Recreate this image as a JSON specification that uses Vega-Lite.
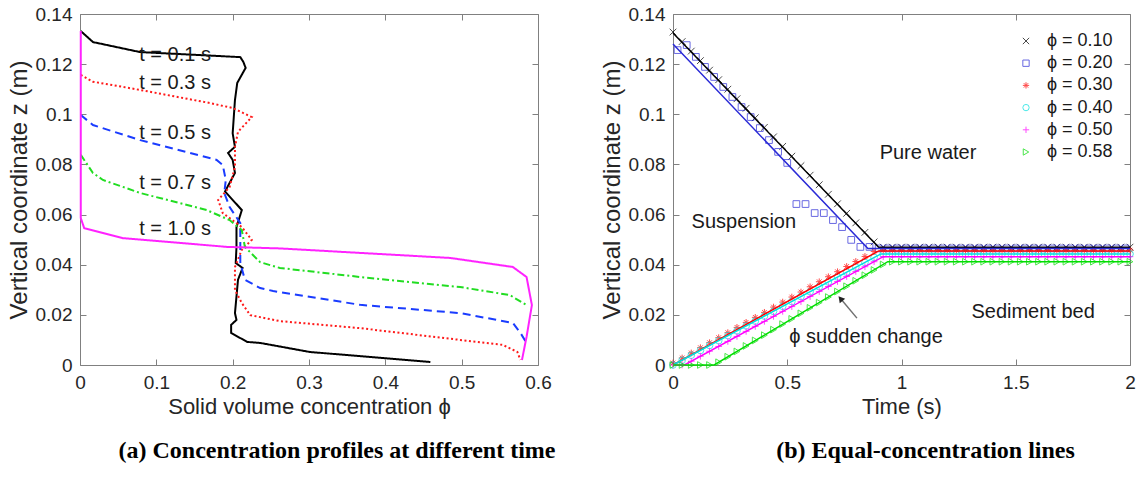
{
  "$schema": "https://vega.github.io/schema/vega-lite/v6.json",
  "padding": {"left": 7, "top": 5, "right": 2, "bottom": 2},
  "spacing": 44,
  "resolve": {"scale": {"color": "independent", "shape": "independent", "strokeDash": "independent"}, "legend": {"color": "independent", "shape": "independent", "strokeDash": "independent"}},
  "config": {
    "view": {"stroke": null},
    "font": "Liberation Sans",
    "axis": {"grid": false, "labelFont": "Liberation Sans", "labelFontSize": 19, "labelColor": "#262626", "titleFont": "Liberation Sans", "titleFontSize": 22, "titleFontWeight": "normal", "titleColor": "#262626", "domainColor": "#808080", "tickColor": "#808080", "tickSize": -6, "labelPadding": 14, "labelFlush": false, "labelOverlap": false},
    "axisY": {"titleFontSize": 24}
  },
  "datasets": {
    "prof": [
      {"s":"0.1","i":0,"x":0.001,"y":0.1332},{"s":"0.1","i":1,"x":0.017,"y":0.1288},{"s":"0.1","i":2,"x":0.079,"y":0.1248},{"s":"0.1","i":3,"x":0.21,"y":0.1228},{"s":"0.1","i":4,"x":0.214,"y":0.1209},{"s":"0.1","i":5,"x":0.217,"y":0.1185},{"s":"0.1","i":6,"x":0.206,"y":0.1125},{"s":"0.1","i":7,"x":0.203,"y":0.1057},{"s":"0.1","i":8,"x":0.2,"y":0.0924},{"s":"0.1","i":9,"x":0.203,"y":0.087},{"s":"0.1","i":10,"x":0.194,"y":0.0846},{"s":"0.1","i":11,"x":0.2,"y":0.0818},{"s":"0.1","i":12,"x":0.203,"y":0.0766},{"s":"0.1","i":13,"x":0.19,"y":0.0692},{"s":"0.1","i":14,"x":0.212,"y":0.0618},{"s":"0.1","i":15,"x":0.205,"y":0.055},{"s":"0.1","i":16,"x":0.205,"y":0.047},{"s":"0.1","i":17,"x":0.204,"y":0.0407},{"s":"0.1","i":18,"x":0.213,"y":0.0387},{"s":"0.1","i":19,"x":0.207,"y":0.034},{"s":"0.1","i":20,"x":0.203,"y":0.0207},{"s":"0.1","i":21,"x":0.205,"y":0.018},{"s":"0.1","i":22,"x":0.198,"y":0.016},{"s":"0.1","i":23,"x":0.198,"y":0.0128},{"s":"0.1","i":24,"x":0.219,"y":0.0092},{"s":"0.1","i":25,"x":0.236,"y":0.0088},{"s":"0.1","i":26,"x":0.301,"y":0.0052},{"s":"0.1","i":27,"x":0.459,"y":0.0012},
      {"s":"0.3","i":0,"x":0.001,"y":0.1157},{"s":"0.3","i":1,"x":0.017,"y":0.113},{"s":"0.3","i":2,"x":0.079,"y":0.1097},{"s":"0.3","i":3,"x":0.17,"y":0.1045},{"s":"0.3","i":4,"x":0.2,"y":0.1025},{"s":"0.3","i":5,"x":0.225,"y":0.0989},{"s":"0.3","i":6,"x":0.207,"y":0.093},{"s":"0.3","i":7,"x":0.203,"y":0.087},{"s":"0.3","i":8,"x":0.203,"y":0.079},{"s":"0.3","i":9,"x":0.196,"y":0.071},{"s":"0.3","i":10,"x":0.181,"y":0.0658},{"s":"0.3","i":11,"x":0.187,"y":0.0606},{"s":"0.3","i":12,"x":0.212,"y":0.055},{"s":"0.3","i":13,"x":0.225,"y":0.0499},{"s":"0.3","i":14,"x":0.212,"y":0.046},{"s":"0.3","i":15,"x":0.203,"y":0.039},{"s":"0.3","i":16,"x":0.203,"y":0.0299},{"s":"0.3","i":17,"x":0.212,"y":0.0247},{"s":"0.3","i":18,"x":0.223,"y":0.0199},{"s":"0.3","i":19,"x":0.236,"y":0.0191},{"s":"0.3","i":20,"x":0.262,"y":0.0175},{"s":"0.3","i":21,"x":0.367,"y":0.0147},{"s":"0.3","i":22,"x":0.498,"y":0.01},{"s":"0.3","i":23,"x":0.554,"y":0.008},{"s":"0.3","i":24,"x":0.573,"y":0.0052},{"s":"0.3","i":25,"x":0.577,"y":0.002},
      {"s":"0.5","i":0,"x":0.001,"y":0.0997},{"s":"0.5","i":1,"x":0.017,"y":0.0957},{"s":"0.5","i":2,"x":0.079,"y":0.0897},{"s":"0.5","i":3,"x":0.179,"y":0.0818},{"s":"0.5","i":4,"x":0.187,"y":0.0798},{"s":"0.5","i":5,"x":0.191,"y":0.0738},{"s":"0.5","i":6,"x":0.189,"y":0.0686},{"s":"0.5","i":7,"x":0.196,"y":0.063},{"s":"0.5","i":8,"x":0.21,"y":0.0566},{"s":"0.5","i":9,"x":0.21,"y":0.0407},{"s":"0.5","i":10,"x":0.216,"y":0.034},{"s":"0.5","i":11,"x":0.236,"y":0.0307},{"s":"0.5","i":12,"x":0.253,"y":0.0295},{"s":"0.5","i":13,"x":0.367,"y":0.024},{"s":"0.5","i":14,"x":0.498,"y":0.0207},{"s":"0.5","i":15,"x":0.567,"y":0.0168},{"s":"0.5","i":16,"x":0.577,"y":0.0128},{"s":"0.5","i":17,"x":0.585,"y":0.0088},
      {"s":"0.7","i":0,"x":0.001,"y":0.0838},{"s":"0.7","i":1,"x":0.017,"y":0.0766},{"s":"0.7","i":2,"x":0.03,"y":0.0738},{"s":"0.7","i":3,"x":0.079,"y":0.0686},{"s":"0.7","i":4,"x":0.166,"y":0.0618},{"s":"0.7","i":5,"x":0.196,"y":0.0578},{"s":"0.7","i":6,"x":0.212,"y":0.0538},{"s":"0.7","i":7,"x":0.216,"y":0.0471},{"s":"0.7","i":8,"x":0.236,"y":0.041},{"s":"0.7","i":9,"x":0.262,"y":0.0387},{"s":"0.7","i":10,"x":0.367,"y":0.0351},{"s":"0.7","i":11,"x":0.498,"y":0.0311},{"s":"0.7","i":12,"x":0.563,"y":0.0279},{"s":"0.7","i":13,"x":0.585,"y":0.0239},
      {"s":"1.0","i":0,"x":0.001,"y":0.1332},{"s":"1.0","i":1,"x":0.001,"y":0.0586},{"s":"1.0","i":2,"x":0.0055,"y":0.0546},{"s":"1.0","i":3,"x":0.056,"y":0.0506},{"s":"1.0","i":4,"x":0.193,"y":0.0471},{"s":"1.0","i":5,"x":0.262,"y":0.0465},{"s":"1.0","i":6,"x":0.485,"y":0.0427},{"s":"1.0","i":7,"x":0.567,"y":0.0391},{"s":"1.0","i":8,"x":0.585,"y":0.0351},{"s":"1.0","i":9,"x":0.592,"y":0.0239},{"s":"1.0","i":10,"x":0.585,"y":0.0112},{"s":"1.0","i":11,"x":0.579,"y":0.002}
    ],
    "labA": [
      {"x":0.1245,"y":0.1236,"txt":"t = 0.1 s"},
      {"x":0.1245,"y":0.1125,"txt":"t = 0.3 s"},
      {"x":0.1245,"y":0.0924,"txt":"t = 0.5 s"},
      {"x":0.1245,"y":0.0726,"txt":"t = 0.7 s"},
      {"x":0.1245,"y":0.0542,"txt":"t = 1.0 s"}
    ],
    "ln": [
      {"p":"0.10","t":0,"z":0.1324},{"p":"0.10","t":0.9,"z":0.047},{"p":"0.10","t":2,"z":0.047},
      {"p":"0.20","t":0,"z":0.128},{"p":"0.20","t":0.853,"z":0.0465},{"p":"0.20","t":2,"z":0.0465},
      {"p":"0.30","t":0,"z":0},{"p":"0.30","t":0.9,"z":0.0455},{"p":"0.30","t":2,"z":0.0455},
      {"p":"0.40","t":0,"z":0},{"p":"0.40","t":0.91,"z":0.0443},{"p":"0.40","t":2,"z":0.0443},
      {"p":"0.50","t":0,"z":0},{"p":"0.50","t":0.05,"z":0},{"p":"0.50","t":0.92,"z":0.0432},{"p":"0.50","t":2,"z":0.0432},
      {"p":"0.58","t":0,"z":0},{"p":"0.58","t":0.18,"z":0},{"p":"0.58","t":0.94,"z":0.0412},{"p":"0.58","t":2,"z":0.0412}
    ],
    "mk": [
      {"p":"0.10","t":0,"z":0.1328},{"p":"0.10","t":0.04,"z":0.129},{"p":"0.10","t":0.08,"z":0.1252},{"p":"0.10","t":0.12,"z":0.1214},{"p":"0.10","t":0.16,"z":0.1176},{"p":"0.10","t":0.2,"z":0.1138},{"p":"0.10","t":0.24,"z":0.11},{"p":"0.10","t":0.28,"z":0.1062},{"p":"0.10","t":0.32,"z":0.1024},{"p":"0.10","t":0.36,"z":0.0986},{"p":"0.10","t":0.4,"z":0.0948},{"p":"0.10","t":0.44,"z":0.091},{"p":"0.10","t":0.48,"z":0.0872},{"p":"0.10","t":0.52,"z":0.0833},{"p":"0.10","t":0.56,"z":0.0795},{"p":"0.10","t":0.6,"z":0.0757},{"p":"0.10","t":0.64,"z":0.0719},{"p":"0.10","t":0.68,"z":0.0681},{"p":"0.10","t":0.72,"z":0.0643},{"p":"0.10","t":0.76,"z":0.0605},{"p":"0.10","t":0.8,"z":0.0567},{"p":"0.10","t":0.84,"z":0.0529},{"p":"0.10","t":0.88,"z":0.0491},{"p":"0.10","t":0.92,"z":0.047},{"p":"0.10","t":0.96,"z":0.047},{"p":"0.10","t":1,"z":0.047},{"p":"0.10","t":1.04,"z":0.047},{"p":"0.10","t":1.08,"z":0.047},{"p":"0.10","t":1.12,"z":0.047},{"p":"0.10","t":1.16,"z":0.047},{"p":"0.10","t":1.2,"z":0.047},{"p":"0.10","t":1.24,"z":0.047},{"p":"0.10","t":1.28,"z":0.047},{"p":"0.10","t":1.32,"z":0.047},{"p":"0.10","t":1.36,"z":0.047},{"p":"0.10","t":1.4,"z":0.047},{"p":"0.10","t":1.44,"z":0.047},{"p":"0.10","t":1.48,"z":0.047},{"p":"0.10","t":1.52,"z":0.047},{"p":"0.10","t":1.56,"z":0.047},{"p":"0.10","t":1.6,"z":0.047},{"p":"0.10","t":1.64,"z":0.047},{"p":"0.10","t":1.68,"z":0.047},{"p":"0.10","t":1.72,"z":0.047},{"p":"0.10","t":1.76,"z":0.047},{"p":"0.10","t":1.8,"z":0.047},{"p":"0.10","t":1.84,"z":0.047},{"p":"0.10","t":1.88,"z":0.047},{"p":"0.10","t":1.92,"z":0.047},{"p":"0.10","t":1.96,"z":0.047},{"p":"0.10","t":2,"z":0.047},
      {"p":"0.20","t":0.02,"z":0.1256},{"p":"0.20","t":0.06,"z":0.1276},{"p":"0.20","t":0.1,"z":0.1229},{"p":"0.20","t":0.14,"z":0.1189},{"p":"0.20","t":0.18,"z":0.1149},{"p":"0.20","t":0.22,"z":0.1109},{"p":"0.20","t":0.26,"z":0.1069},{"p":"0.20","t":0.3,"z":0.1029},{"p":"0.20","t":0.34,"z":0.0989},{"p":"0.20","t":0.38,"z":0.0945},{"p":"0.20","t":0.42,"z":0.0897},{"p":"0.20","t":0.46,"z":0.085},{"p":"0.20","t":0.5,"z":0.0806},{"p":"0.20","t":0.54,"z":0.0642},{"p":"0.20","t":0.58,"z":0.0642},{"p":"0.20","t":0.62,"z":0.0606},{"p":"0.20","t":0.66,"z":0.0606},{"p":"0.20","t":0.7,"z":0.0578},{"p":"0.20","t":0.74,"z":0.055},{"p":"0.20","t":0.78,"z":0.0499},{"p":"0.20","t":0.82,"z":0.0471},{"p":"0.20","t":0.86,"z":0.0471},{"p":"0.20","t":0.9,"z":0.0465},{"p":"0.20","t":0.94,"z":0.0465},{"p":"0.20","t":0.98,"z":0.0465},{"p":"0.20","t":1.02,"z":0.0465},{"p":"0.20","t":1.06,"z":0.0465},{"p":"0.20","t":1.1,"z":0.0465},{"p":"0.20","t":1.14,"z":0.0465},{"p":"0.20","t":1.18,"z":0.0465},{"p":"0.20","t":1.22,"z":0.0465},{"p":"0.20","t":1.26,"z":0.0465},{"p":"0.20","t":1.3,"z":0.0465},{"p":"0.20","t":1.34,"z":0.0465},{"p":"0.20","t":1.38,"z":0.0465},{"p":"0.20","t":1.42,"z":0.0465},{"p":"0.20","t":1.46,"z":0.0465},{"p":"0.20","t":1.5,"z":0.0465},{"p":"0.20","t":1.54,"z":0.0465},{"p":"0.20","t":1.58,"z":0.0465},{"p":"0.20","t":1.62,"z":0.0465},{"p":"0.20","t":1.66,"z":0.0465},{"p":"0.20","t":1.7,"z":0.0465},{"p":"0.20","t":1.74,"z":0.0465},{"p":"0.20","t":1.78,"z":0.0465},{"p":"0.20","t":1.82,"z":0.0465},{"p":"0.20","t":1.86,"z":0.0465},{"p":"0.20","t":1.9,"z":0.0465},{"p":"0.20","t":1.94,"z":0.0465},{"p":"0.20","t":1.98,"z":0.0465},
      {"p":"0.30","t":0,"z":0.0008},{"p":"0.30","t":0.04,"z":0.0028},{"p":"0.30","t":0.08,"z":0.0048},{"p":"0.30","t":0.12,"z":0.0069},{"p":"0.30","t":0.16,"z":0.0089},{"p":"0.30","t":0.2,"z":0.0109},{"p":"0.30","t":0.24,"z":0.0129},{"p":"0.30","t":0.28,"z":0.015},{"p":"0.30","t":0.32,"z":0.017},{"p":"0.30","t":0.36,"z":0.019},{"p":"0.30","t":0.4,"z":0.021},{"p":"0.30","t":0.44,"z":0.0231},{"p":"0.30","t":0.48,"z":0.0251},{"p":"0.30","t":0.52,"z":0.0271},{"p":"0.30","t":0.56,"z":0.0291},{"p":"0.30","t":0.6,"z":0.0312},{"p":"0.30","t":0.64,"z":0.0332},{"p":"0.30","t":0.68,"z":0.0352},{"p":"0.30","t":0.72,"z":0.0372},{"p":"0.30","t":0.76,"z":0.0393},{"p":"0.30","t":0.8,"z":0.0413},{"p":"0.30","t":0.84,"z":0.0433},{"p":"0.30","t":0.88,"z":0.0453},{"p":"0.30","t":0.92,"z":0.0458},{"p":"0.30","t":0.96,"z":0.0458},{"p":"0.30","t":1,"z":0.0458},{"p":"0.30","t":1.04,"z":0.0458},{"p":"0.30","t":1.08,"z":0.0458},{"p":"0.30","t":1.12,"z":0.0458},{"p":"0.30","t":1.16,"z":0.0458},{"p":"0.30","t":1.2,"z":0.0458},{"p":"0.30","t":1.24,"z":0.0458},{"p":"0.30","t":1.28,"z":0.0458},{"p":"0.30","t":1.32,"z":0.0458},{"p":"0.30","t":1.36,"z":0.0458},{"p":"0.30","t":1.4,"z":0.0458},{"p":"0.30","t":1.44,"z":0.0458},{"p":"0.30","t":1.48,"z":0.0458},{"p":"0.30","t":1.52,"z":0.0458},{"p":"0.30","t":1.56,"z":0.0458},{"p":"0.30","t":1.6,"z":0.0458},{"p":"0.30","t":1.64,"z":0.0458},{"p":"0.30","t":1.68,"z":0.0458},{"p":"0.30","t":1.72,"z":0.0458},{"p":"0.30","t":1.76,"z":0.0458},{"p":"0.30","t":1.8,"z":0.0458},{"p":"0.30","t":1.84,"z":0.0458},{"p":"0.30","t":1.88,"z":0.0458},{"p":"0.30","t":1.92,"z":0.0458},{"p":"0.30","t":1.96,"z":0.0458},{"p":"0.30","t":2,"z":0.0458},
      {"p":"0.40","t":0,"z":0},{"p":"0.40","t":0.04,"z":0.0019},{"p":"0.40","t":0.08,"z":0.0039},{"p":"0.40","t":0.12,"z":0.0058},{"p":"0.40","t":0.16,"z":0.0078},{"p":"0.40","t":0.2,"z":0.0097},{"p":"0.40","t":0.24,"z":0.0117},{"p":"0.40","t":0.28,"z":0.0136},{"p":"0.40","t":0.32,"z":0.0156},{"p":"0.40","t":0.36,"z":0.0175},{"p":"0.40","t":0.4,"z":0.0195},{"p":"0.40","t":0.44,"z":0.0214},{"p":"0.40","t":0.48,"z":0.0234},{"p":"0.40","t":0.52,"z":0.0253},{"p":"0.40","t":0.56,"z":0.0273},{"p":"0.40","t":0.6,"z":0.0292},{"p":"0.40","t":0.64,"z":0.0312},{"p":"0.40","t":0.68,"z":0.0331},{"p":"0.40","t":0.72,"z":0.0351},{"p":"0.40","t":0.76,"z":0.037},{"p":"0.40","t":0.8,"z":0.039},{"p":"0.40","t":0.84,"z":0.0409},{"p":"0.40","t":0.88,"z":0.0429},{"p":"0.40","t":0.92,"z":0.0443},{"p":"0.40","t":0.96,"z":0.0443},{"p":"0.40","t":1,"z":0.0443},{"p":"0.40","t":1.04,"z":0.0443},{"p":"0.40","t":1.08,"z":0.0443},{"p":"0.40","t":1.12,"z":0.0443},{"p":"0.40","t":1.16,"z":0.0443},{"p":"0.40","t":1.2,"z":0.0443},{"p":"0.40","t":1.24,"z":0.0443},{"p":"0.40","t":1.28,"z":0.0443},{"p":"0.40","t":1.32,"z":0.0443},{"p":"0.40","t":1.36,"z":0.0443},{"p":"0.40","t":1.4,"z":0.0443},{"p":"0.40","t":1.44,"z":0.0443},{"p":"0.40","t":1.48,"z":0.0443},{"p":"0.40","t":1.52,"z":0.0443},{"p":"0.40","t":1.56,"z":0.0443},{"p":"0.40","t":1.6,"z":0.0443},{"p":"0.40","t":1.64,"z":0.0443},{"p":"0.40","t":1.68,"z":0.0443},{"p":"0.40","t":1.72,"z":0.0443},{"p":"0.40","t":1.76,"z":0.0443},{"p":"0.40","t":1.8,"z":0.0443},{"p":"0.40","t":1.84,"z":0.0443},{"p":"0.40","t":1.88,"z":0.0443},{"p":"0.40","t":1.92,"z":0.0443},{"p":"0.40","t":1.96,"z":0.0443},{"p":"0.40","t":2,"z":0.0443},
      {"p":"0.50","t":0,"z":0},{"p":"0.50","t":0.04,"z":0},{"p":"0.50","t":0.08,"z":0.0015},{"p":"0.50","t":0.12,"z":0.0035},{"p":"0.50","t":0.16,"z":0.0055},{"p":"0.50","t":0.2,"z":0.0074},{"p":"0.50","t":0.24,"z":0.0094},{"p":"0.50","t":0.28,"z":0.0114},{"p":"0.50","t":0.32,"z":0.0134},{"p":"0.50","t":0.36,"z":0.0154},{"p":"0.50","t":0.4,"z":0.0174},{"p":"0.50","t":0.44,"z":0.0194},{"p":"0.50","t":0.48,"z":0.0214},{"p":"0.50","t":0.52,"z":0.0233},{"p":"0.50","t":0.56,"z":0.0253},{"p":"0.50","t":0.6,"z":0.0273},{"p":"0.50","t":0.64,"z":0.0293},{"p":"0.50","t":0.68,"z":0.0313},{"p":"0.50","t":0.72,"z":0.0333},{"p":"0.50","t":0.76,"z":0.0353},{"p":"0.50","t":0.8,"z":0.0373},{"p":"0.50","t":0.84,"z":0.0392},{"p":"0.50","t":0.88,"z":0.0412},{"p":"0.50","t":0.92,"z":0.0432},{"p":"0.50","t":0.96,"z":0.0432},{"p":"0.50","t":1,"z":0.0432},{"p":"0.50","t":1.04,"z":0.0432},{"p":"0.50","t":1.08,"z":0.0432},{"p":"0.50","t":1.12,"z":0.0432},{"p":"0.50","t":1.16,"z":0.0432},{"p":"0.50","t":1.2,"z":0.0432},{"p":"0.50","t":1.24,"z":0.0432},{"p":"0.50","t":1.28,"z":0.0432},{"p":"0.50","t":1.32,"z":0.0432},{"p":"0.50","t":1.36,"z":0.0432},{"p":"0.50","t":1.4,"z":0.0432},{"p":"0.50","t":1.44,"z":0.0432},{"p":"0.50","t":1.48,"z":0.0432},{"p":"0.50","t":1.52,"z":0.0432},{"p":"0.50","t":1.56,"z":0.0432},{"p":"0.50","t":1.6,"z":0.0432},{"p":"0.50","t":1.64,"z":0.0432},{"p":"0.50","t":1.68,"z":0.0432},{"p":"0.50","t":1.72,"z":0.0432},{"p":"0.50","t":1.76,"z":0.0432},{"p":"0.50","t":1.8,"z":0.0432},{"p":"0.50","t":1.84,"z":0.0432},{"p":"0.50","t":1.88,"z":0.0432},{"p":"0.50","t":1.92,"z":0.0432},{"p":"0.50","t":1.96,"z":0.0432},{"p":"0.50","t":2,"z":0.0432},
      {"p":"0.58","t":0,"z":0},{"p":"0.58","t":0.04,"z":0},{"p":"0.58","t":0.08,"z":0},{"p":"0.58","t":0.12,"z":0},{"p":"0.58","t":0.16,"z":0},{"p":"0.58","t":0.2,"z":0.0011},{"p":"0.58","t":0.24,"z":0.0033},{"p":"0.58","t":0.28,"z":0.0054},{"p":"0.58","t":0.32,"z":0.0076},{"p":"0.58","t":0.36,"z":0.0098},{"p":"0.58","t":0.4,"z":0.0119},{"p":"0.58","t":0.44,"z":0.0141},{"p":"0.58","t":0.48,"z":0.0163},{"p":"0.58","t":0.52,"z":0.0184},{"p":"0.58","t":0.56,"z":0.0206},{"p":"0.58","t":0.6,"z":0.0228},{"p":"0.58","t":0.64,"z":0.0249},{"p":"0.58","t":0.68,"z":0.0271},{"p":"0.58","t":0.72,"z":0.0293},{"p":"0.58","t":0.76,"z":0.0314},{"p":"0.58","t":0.8,"z":0.0336},{"p":"0.58","t":0.84,"z":0.0358},{"p":"0.58","t":0.88,"z":0.0379},{"p":"0.58","t":0.92,"z":0.0401},{"p":"0.58","t":0.96,"z":0.0412},{"p":"0.58","t":1,"z":0.0412},{"p":"0.58","t":1.04,"z":0.0412},{"p":"0.58","t":1.08,"z":0.0412},{"p":"0.58","t":1.12,"z":0.0412},{"p":"0.58","t":1.16,"z":0.0412},{"p":"0.58","t":1.2,"z":0.0412},{"p":"0.58","t":1.24,"z":0.0412},{"p":"0.58","t":1.28,"z":0.0412},{"p":"0.58","t":1.32,"z":0.0412},{"p":"0.58","t":1.36,"z":0.0412},{"p":"0.58","t":1.4,"z":0.0412},{"p":"0.58","t":1.44,"z":0.0412},{"p":"0.58","t":1.48,"z":0.0412},{"p":"0.58","t":1.52,"z":0.0412},{"p":"0.58","t":1.56,"z":0.0412},{"p":"0.58","t":1.6,"z":0.0412},{"p":"0.58","t":1.64,"z":0.0412},{"p":"0.58","t":1.68,"z":0.0412},{"p":"0.58","t":1.72,"z":0.0412},{"p":"0.58","t":1.76,"z":0.0412},{"p":"0.58","t":1.8,"z":0.0412},{"p":"0.58","t":1.84,"z":0.0412},{"p":"0.58","t":1.88,"z":0.0412},{"p":"0.58","t":1.92,"z":0.0412},{"p":"0.58","t":1.96,"z":0.0412},{"p":"0.58","t":2,"z":0.0412}
    ],
    "annB": [
      {"x":1.116,"y":0.0846,"txt":"Pure water"},
      {"x":0.31,"y":0.057,"txt":"Suspension"},
      {"x":1.576,"y":0.0211,"txt":"Sediment bed"},
      {"x":0.845,"y":0.0112,"txt":"ϕ sudden change"}
    ],
    "arr": [
      {"x1":0.805,"y1":0.0187,"x2":0.733,"y2":0.0265}
    ]
  },
  "hconcat": [
    {
      "width": 458,
      "height": 351,
      "title": {"text": "(a) Concentration profiles at different time", "orient": "bottom", "anchor": "middle", "frame": "group", "dx": 28, "offset": 22, "font": "Liberation Serif", "fontSize": 24, "fontWeight": "bold", "color": "#000000"},
      "layer": [
        {
          "data": {"name": "prof"},
          "mark": {"type": "line", "strokeWidth": 2},
          "encoding": {
            "x": {"field": "x", "type": "quantitative", "scale": {"domain": [0, 0.6], "nice": false, "zero": false}, "axis": {"orient": "bottom", "values": [0, 0.1, 0.2, 0.3, 0.4, 0.5, 0.6], "format": "~g", "title": "Solid volume concentration ϕ"}},
            "y": {"field": "y", "type": "quantitative", "scale": {"domain": [0, 0.14], "nice": false}, "axis": {"orient": "left", "values": [0, 0.02, 0.04, 0.06, 0.08, 0.1, 0.12, 0.14], "format": "~g", "title": "Vertical coordinate z (m)"}},
            "color": {"field": "s", "type": "nominal", "scale": {"domain": ["0.1", "0.3", "0.5", "0.7", "1.0"], "range": ["#000000", "#ff1a1a", "#1a3cff", "#22dd22", "#ff22ff"]}, "legend": null},
            "strokeDash": {"field": "s", "type": "nominal", "scale": {"domain": ["0.1", "0.3", "0.5", "0.7", "1.0"], "range": [[1, 0], [2, 2.5], [8, 5], [7, 3, 2, 3], [1, 0]]}, "legend": null},
            "order": {"field": "i", "type": "quantitative"}
          }
        },
        {
          "data": {"name": "labA"},
          "mark": {"type": "text", "fontSize": 20, "font": "Liberation Sans", "color": "#1a1a1a"},
          "encoding": {
            "x": {"field": "x", "type": "quantitative", "axis": {"orient": "top", "labels": false, "title": null, "values": [0, 0.1, 0.2, 0.3, 0.4, 0.5, 0.6]}},
            "y": {"field": "y", "type": "quantitative", "axis": {"orient": "right", "labels": false, "title": null, "values": [0, 0.02, 0.04, 0.06, 0.08, 0.1, 0.12, 0.14]}},
            "text": {"field": "txt"}
          }
        }
      ]
    },
    {
      "width": 457,
      "height": 351,
      "title": {"text": "(b) Equal-concentration lines", "orient": "bottom", "anchor": "middle", "frame": "group", "dx": 24, "offset": 22, "font": "Liberation Serif", "fontSize": 24, "fontWeight": "bold", "color": "#000000"},
      "layer": [
        {
          "data": {"name": "mk"},
          "mark": {"type": "point", "filled": false, "strokeWidth": 1, "size": 45},
          "encoding": {
            "x": {"field": "t", "type": "quantitative", "scale": {"domain": [0, 2], "nice": false}, "axis": {"orient": "bottom", "values": [0, 0.5, 1, 1.5, 2], "format": "~g", "title": "Time (s)"}},
            "y": {"field": "z", "type": "quantitative", "scale": {"domain": [0, 0.14], "nice": false}, "axis": {"orient": "left", "values": [0, 0.02, 0.04, 0.06, 0.08, 0.1, 0.12, 0.14], "format": "~g", "title": "Vertical coordinate z (m)"}},
            "color": {"field": "p", "type": "nominal", "scale": {"domain": ["0.10", "0.20", "0.30", "0.40", "0.50", "0.58"], "range": ["#000000", "#2a2ad6", "#ff0000", "#00e0e0", "#ff00ff", "#00dd00"]}, "legend": {"title": null, "orient": "none", "legendX": 344, "legendY": 18, "padding": 0, "labelFont": "Liberation Sans", "labelFontSize": 18, "labelColor": "#1a1a1a", "symbolSize": 40, "symbolStrokeWidth": 1, "rowPadding": 4.2, "labelOffset": 12, "labelExpr": "'ϕ = ' + datum.label"}},
            "shape": {"field": "p", "type": "nominal", "scale": {"domain": ["0.10", "0.20", "0.30", "0.40", "0.50", "0.58"], "range": ["M-1,-1L1,1M-1,1L1,-1", "square", "M-1,0L1,0M0,-1L0,1M-0.7,-0.7L0.7,0.7M-0.7,0.7L0.7,-0.7", "circle", "M-1,0L1,0M0,-1L0,1", "triangle-right"]}, "legend": {"title": null, "orient": "none", "legendX": 344, "legendY": 18, "padding": 0, "labelFont": "Liberation Sans", "labelFontSize": 18, "labelColor": "#1a1a1a", "symbolSize": 40, "symbolStrokeWidth": 1, "rowPadding": 4.2, "labelOffset": 12, "labelExpr": "'ϕ = ' + datum.label"}}
          }
        },
        {
          "data": {"name": "ln"},
          "mark": {"type": "line", "strokeWidth": 1.5},
          "encoding": {
            "x": {"field": "t", "type": "quantitative", "axis": null},
            "y": {"field": "z", "type": "quantitative", "axis": null},
            "color": {"field": "p", "type": "nominal", "legend": null}
          }
        },
        {
          "data": {"name": "arr"},
          "mark": {"type": "rule", "color": "#707070", "strokeWidth": 1.5},
          "encoding": {
            "x": {"field": "x1", "type": "quantitative", "axis": null},
            "y": {"field": "y1", "type": "quantitative", "axis": null},
            "x2": {"field": "x2"},
            "y2": {"field": "y2"}
          }
        },
        {
          "data": {"name": "arr"},
          "mark": {"type": "point", "shape": "triangle-up", "filled": true, "color": "#222222", "size": 50, "angle": 320, "opacity": 1},
          "encoding": {
            "x": {"field": "x2", "type": "quantitative", "axis": null},
            "y": {"field": "y2", "type": "quantitative", "axis": null}
          }
        },
        {
          "data": {"name": "annB"},
          "mark": {"type": "text", "fontSize": 20, "font": "Liberation Sans", "color": "#1a1a1a"},
          "encoding": {
            "x": {"field": "x", "type": "quantitative", "axis": {"orient": "top", "labels": false, "title": null, "values": [0, 0.5, 1, 1.5, 2]}},
            "y": {"field": "y", "type": "quantitative", "axis": {"orient": "right", "labels": false, "title": null, "values": [0, 0.02, 0.04, 0.06, 0.08, 0.1, 0.12, 0.14]}},
            "text": {"field": "txt"}
          }
        }
      ]
    }
  ]
}
